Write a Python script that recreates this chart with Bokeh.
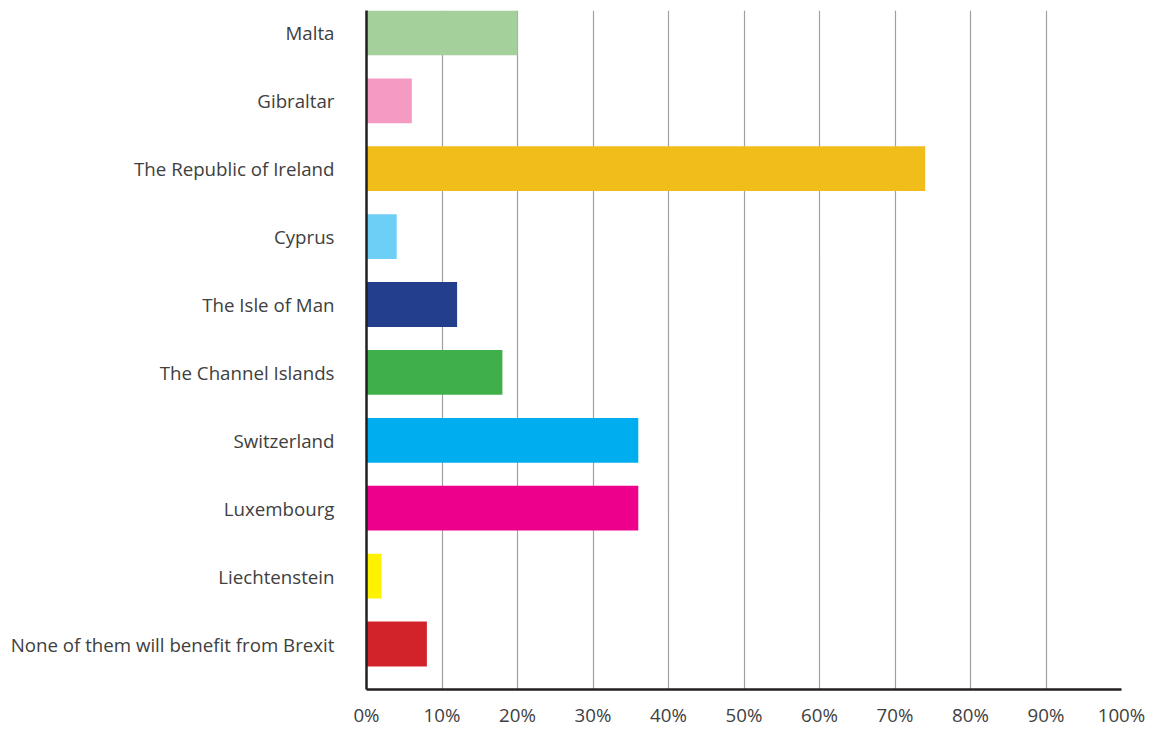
from bokeh.plotting import figure
from bokeh.embed import file_html
from bokeh.resources import INLINE
from bokeh.models import Range1d, FixedTicker, ColumnDataSource

categories = ["Malta", "Gibraltar", "The Republic of Ireland", "Cyprus", "The Isle of Man",
              "The Channel Islands", "Switzerland", "Luxembourg", "Liechtenstein",
              "None of them will benefit from Brexit"]
values = [20, 6, 74, 4, 12, 18, 36, 36, 2, 8]
colors = ["#a4d09b", "#f49ac3", "#f0bd1a", "#6dcff6", "#233e8c",
          "#3faf49", "#00aeef", "#ec008c", "#fff200", "#d2232a"]
x_ticks = [0, 10, 20, 30, 40, 50, 60, 70, 80, 90, 100]

n = len(categories)
ypos = [n - 1 - i for i in range(n)]
src = ColumnDataSource(dict(y=ypos, v=values, c=colors))

p = figure(width=1158, height=729, output_backend="svg", toolbar_location=None,
           x_range=Range1d(0, 100), y_range=Range1d(-0.67, n - 1 + 0.33),
           min_border_left=366, min_border_right=37, min_border_top=10, min_border_bottom=39)
p.outline_line_color = None
p.hbar(y="y", right="v", left=0, height=0.66, fill_color="c", line_color=None, source=src)

font = "Open Sans"
p.xaxis.ticker = FixedTicker(ticks=x_ticks)
p.xaxis.major_label_overrides = {t: f"{t}%" for t in x_ticks}
p.yaxis.ticker = FixedTicker(ticks=ypos)
p.yaxis.major_label_overrides = {y: c for y, c in zip(ypos, categories)}
for ax in (p.xaxis, p.yaxis):
    ax.major_tick_line_color = None
    ax.minor_tick_line_color = None
    ax.axis_line_color = "#231f20"
    ax.axis_line_width = 2.5
    ax.major_label_text_font = font
    ax.major_label_text_font_size = "18.7px"
    ax.major_label_text_color = "#404040"
p.yaxis.major_label_standoff = 26
p.xaxis.major_label_standoff = 6
p.xgrid.ticker = FixedTicker(ticks=x_ticks[1:])
p.xgrid.grid_line_color = "#a0a0a0"
p.xgrid.grid_line_width = 1.2
p.ygrid.grid_line_color = None

open("out.html", "w").write(file_html(p, INLINE))
